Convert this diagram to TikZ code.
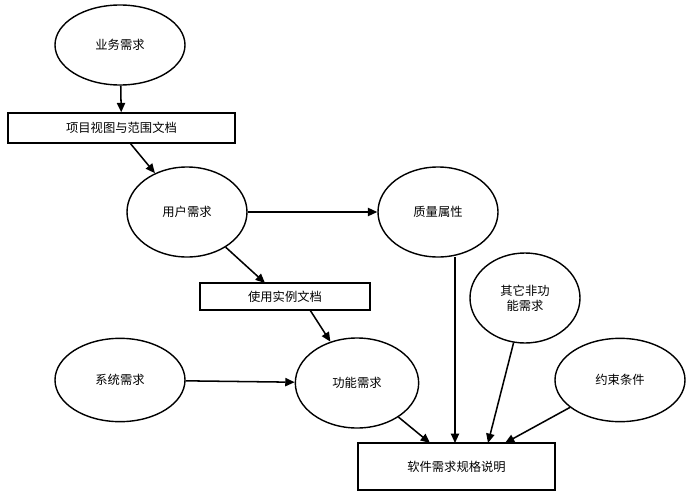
\documentclass[tikz,border=0pt]{standalone}
\usepackage{fontspec}
\setmainfont{Noto Sans CJK SC}
\usetikzlibrary{shapes.geometric,arrows.meta}
\begin{document}
\begin{tikzpicture}[x=0.03cm,y=-0.03cm,
  el/.style={draw,line width=1.2pt,ellipse,inner sep=0pt,font=\fontsize{10.5}{12.5}\selectfont,align=center},
  bx/.style={draw,line width=1.2pt,rectangle,inner sep=0pt,font=\fontsize{10.5}{12.5}\selectfont},
  ar/.style={line width=1.3pt,-{Triangle[length=8pt,width=7pt]}}]
\useasboundingbox (0,0) rectangle (693,502);
\node[el,minimum width=3.9cm,minimum height=2.4cm] (a) at (120,45) {业务需求};
\node[bx,minimum width=6.81cm,minimum height=0.9cm] (b) at (121.5,128) {项目视图与范围文档};
\node[el,minimum width=3.6cm,minimum height=2.7cm] (c) at (187,212) {用户需求};
\node[el,minimum width=3.6cm,minimum height=2.7cm] (d) at (438,212) {质量属性};
\node[bx,minimum width=5.1cm,minimum height=0.81cm] (e) at (285,296.5) {使用实例文档};
\node[el,minimum width=3.3cm,minimum height=2.7cm] (f) at (525,298) {其它非功\\能需求};
\node[el,minimum width=3.9cm,minimum height=2.5cm] (g) at (120,380) {系统需求};
\node[el,minimum width=3.7cm,minimum height=2.7cm] (h) at (357,383) {功能需求};
\node[el,minimum width=3.9cm,minimum height=2.5cm] (i) at (620,380) {约束条件};
\node[bx,minimum width=5.9cm,minimum height=1.41cm] (j) at (456.5,466.5) {软件需求规格说明};
\coordinate (b1) at (130,143);
\coordinate (e0) at (265,283);
\coordinate (e1) at (310,310);
\coordinate (j1) at (430,443);
\coordinate (d1) at (455,257);
\coordinate (j2) at (455,443);
\coordinate (j3) at (488,443);
\coordinate (j4) at (505,443);
\draw[ar] (a) -- (b);
\draw[ar] (b1) -- (c);
\draw[ar] (c) -- (d);
\draw[ar] (c) -- (e0);
\draw[ar] (e1) -- (h);
\draw[ar] (g) -- (h);
\draw[ar] (h) -- (j1);
\draw[ar] (d1) -- (j2);
\draw[ar] (f) -- (j3);
\draw[ar] (i) -- (j4);
\end{tikzpicture}
\end{document}
